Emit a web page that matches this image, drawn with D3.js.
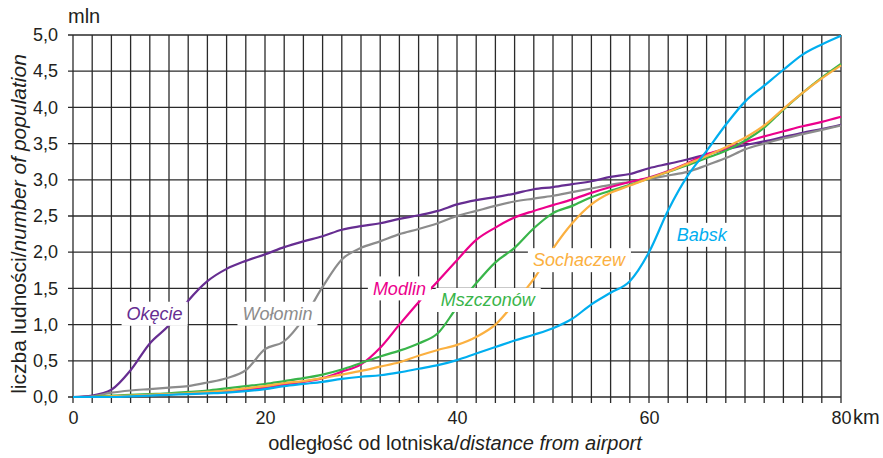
<!DOCTYPE html>
<html>
<head>
<meta charset="utf-8">
<script src="https://cdn.jsdelivr.net/npm/d3@7/dist/d3.min.js"></script>
<style>
  html, body { margin: 0; padding: 0; background: #fff; }
  svg { display: block; font-family: "Liberation Sans", Arial, sans-serif; }
</style>
</head>
<body>
<svg id="chart" width="883" height="458"></svg>
<script>
// ---- data ----
const km = [0,2,4,6,8,10,12,14,16,18,20,22,24,26,28,30,32,34,36,38,40,42,44,46,48,50,52,54,56,58,60,62,64,66,68,70,72,74,76,78,80];
const okecie   = [0,0.02,0.1,0.37,0.74,0.99,1.33,1.6,1.77,1.88,1.97,2.07,2.15,2.22,2.31,2.36,2.4,2.46,2.51,2.57,2.66,2.72,2.76,2.81,2.87,2.9,2.94,2.98,3.04,3.08,3.16,3.22,3.28,3.35,3.42,3.48,3.53,3.59,3.65,3.7,3.76];
const wolomin  = [0,0.01,0.06,0.09,0.11,0.13,0.15,0.2,0.26,0.37,0.66,0.77,1.08,1.52,1.9,2.06,2.15,2.25,2.32,2.4,2.5,2.57,2.64,2.7,2.74,2.78,2.83,2.88,2.93,2.97,3.01,3.06,3.11,3.2,3.3,3.42,3.5,3.57,3.63,3.69,3.75];
const modlin   = [0,0,0.01,0.02,0.03,0.04,0.05,0.06,0.08,0.1,0.13,0.17,0.21,0.26,0.35,0.45,0.68,1.0,1.31,1.6,1.89,2.17,2.34,2.48,2.57,2.65,2.73,2.82,2.9,2.97,3.03,3.12,3.23,3.35,3.43,3.52,3.6,3.67,3.74,3.8,3.87];
const mszczonow= [0,0,0.02,0.03,0.04,0.05,0.07,0.09,0.12,0.15,0.18,0.22,0.26,0.31,0.38,0.47,0.56,0.64,0.74,0.88,1.24,1.57,1.86,2.06,2.33,2.54,2.64,2.76,2.85,2.93,3.02,3.11,3.2,3.3,3.4,3.54,3.72,3.97,4.2,4.41,4.6];
const sochaczew= [0,0,0.01,0.02,0.03,0.04,0.05,0.07,0.09,0.12,0.15,0.19,0.22,0.26,0.31,0.36,0.42,0.48,0.57,0.65,0.72,0.83,1.0,1.3,1.63,2.05,2.4,2.66,2.82,2.92,3.02,3.11,3.22,3.33,3.45,3.58,3.75,3.98,4.2,4.4,4.58];
const babsk    = [0,0,0,0.01,0.02,0.03,0.04,0.05,0.06,0.08,0.11,0.15,0.18,0.21,0.25,0.28,0.3,0.34,0.39,0.44,0.51,0.6,0.69,0.78,0.86,0.95,1.08,1.28,1.44,1.6,2.0,2.58,3.05,3.4,3.76,4.08,4.3,4.52,4.73,4.87,4.99];

const seriesNames  = ["Okęcie","Wołomin","Modlin","Mszczonów","Sochaczew","Babsk"];
const seriesValues = [okecie, wolomin, modlin, mszczonow, sochaczew, babsk];
const seriesColors = ["#662d91","#8c8c8c","#ec008c","#39b54a","#fbb040","#00aeef"];
// label anchor positions in data units [km, mln]
const labelKm  = [8.5, 21.3, 34.0, 43.2, 52.7, 65.5];
const labelMln = [1.15, 1.15, 1.50, 1.34, 1.89, 2.24];

const xTickLabels = [0,20,40,60,80];
const yTicks = [0,0.5,1,1.5,2,2.5,3,3.5,4,4.5,5];
const gridKm = km;

// ---- layout ----
const svg = d3.select("#chart");
const margin = {left: 73, right: 42, top: 35, bottom: 61};
const W = 883, H = 458;
const x = d3.scaleLinear().domain([0,80]).range([margin.left, W - margin.right]);
const y = d3.scaleLinear().domain([0,5]).range([H - margin.bottom, margin.top]);
const fmt = d => d3.format(".1f")(d).replace(".", ",");

const grid = svg.append("g");
grid.selectAll("line.v").data(gridKm).join("line")
  .attr("x1", d => x(d)).attr("x2", d => x(d))
  .attr("y1", y(5)).attr("y2", y(0) + 6)
  .attr("stroke", "#2a2a2a").attr("stroke-width", 1.3);
grid.selectAll("line.h").data(yTicks).join("line")
  .attr("x1", x(0) - 5).attr("x2", x(80))
  .attr("y1", d => y(d)).attr("y2", d => y(d))
  .attr("stroke", "#2a2a2a").attr("stroke-width", 1.3);

const xAxis = svg.append("g").attr("transform", `translate(0,${y(0)})`)
  .call(d3.axisBottom(x).tickValues(xTickLabels).tickSize(0).tickPadding(14).tickFormat(d3.format("d")));
xAxis.select(".domain").remove();
xAxis.selectAll("text").attr("font-size", 18).attr("fill", "#231f20").attr("font-family", "Liberation Sans, Arial, sans-serif");

const yAxis = svg.append("g").attr("transform", `translate(${x(0)},0)`)
  .call(d3.axisLeft(y).tickValues(yTicks).tickSize(0).tickPadding(15).tickFormat(fmt));
yAxis.select(".domain").remove();
yAxis.selectAll("text").attr("font-size", 18).attr("fill", "#231f20").attr("font-family", "Liberation Sans, Arial, sans-serif");

const line = d3.line().x((d,i) => x(km[i])).y(d => y(d)).curve(d3.curveMonotoneX);
svg.append("g").selectAll("path").data(seriesValues).join("path")
  .attr("d", d => line(d))
  .attr("fill", "none")
  .attr("stroke", (d,i) => seriesColors[i])
  .attr("stroke-width", 2.2)
  .attr("stroke-linejoin", "round");

const lab = svg.append("g");
seriesNames.forEach((name, i) => {
  const g = lab.append("g");
  const t = g.append("text")
    .attr("x", x(labelKm[i])).attr("y", y(labelMln[i]))
    .attr("dy", "0.35em")
    .attr("text-anchor", "middle")
    .attr("font-size", 18).attr("font-style", "italic")
    .attr("fill", seriesColors[i])
    .text(name);
  const bb = t.node().getBBox();
  g.insert("rect", "text")
    .attr("x", bb.x - 5).attr("y", y(labelMln[i]) - 12)
    .attr("width", bb.width + 10).attr("height", 24)
    .attr("fill", "#fff");
});

svg.append("text").attr("x", 68).attr("y", 23).attr("font-size", 20).attr("fill", "#231f20").text("mln");
svg.append("text").attr("x", 853).attr("y", 424).attr("font-size", 20).attr("fill", "#231f20").text("km");

const xt = svg.append("text").attr("x", 455).attr("y", 450).attr("text-anchor", "middle")
  .attr("font-size", 20).attr("fill", "#231f20");
xt.append("tspan").text("odległość od lotniska/");
xt.append("tspan").attr("font-style", "italic").text("distance from airport");

const yt = svg.append("text").attr("transform", `translate(26,224) rotate(-90)`).attr("text-anchor", "middle")
  .attr("font-size", 21).attr("fill", "#231f20");
yt.append("tspan").text("liczba ludności/");
yt.append("tspan").attr("font-style", "italic").text("number of population");
</script>
</body>
</html>
